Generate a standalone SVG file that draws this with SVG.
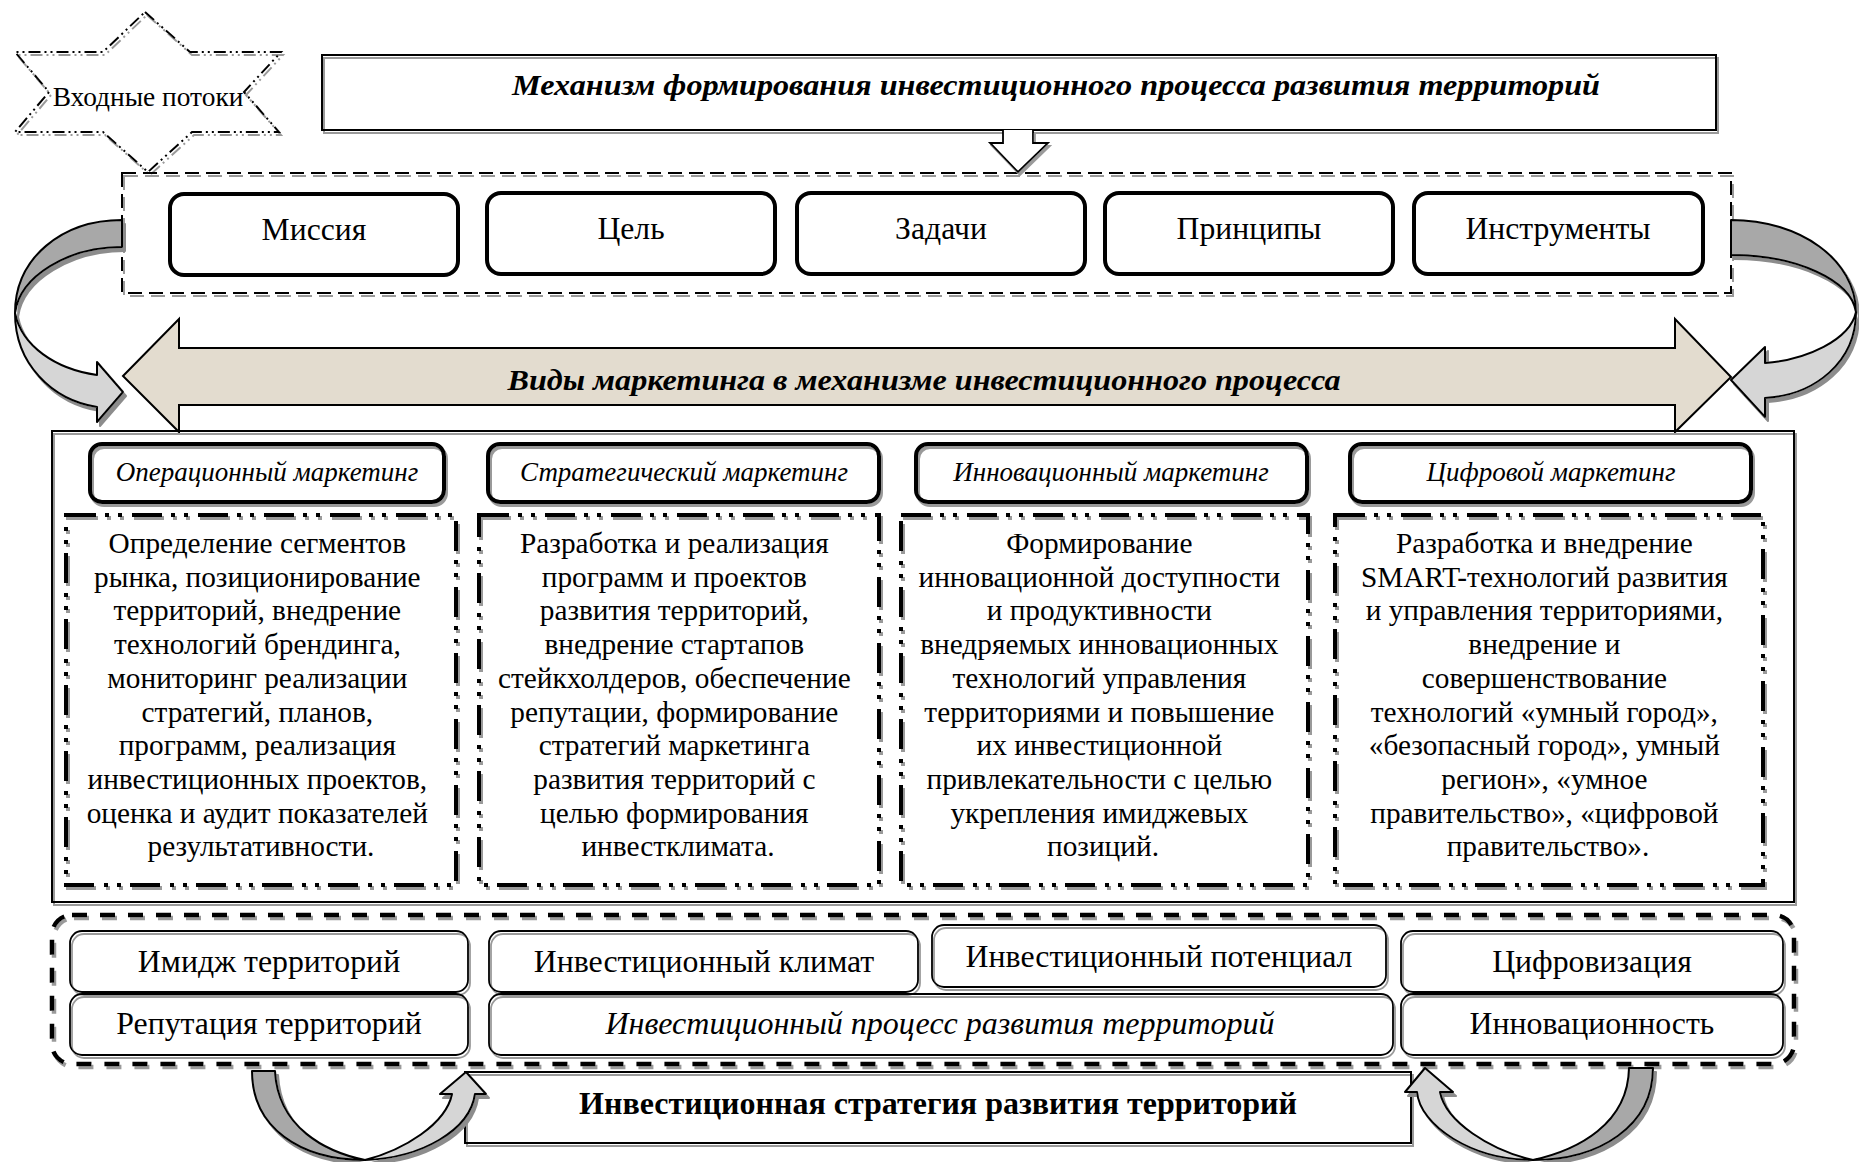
<svg xmlns="http://www.w3.org/2000/svg" width="1859" height="1162" viewBox="0 0 1859 1162">
  <defs>
    <!-- gray offset copy of outlines, like a flat drop shadow -->
    <filter id="sh" filterUnits="userSpaceOnUse" x="0" y="0" width="1859" height="1162">
      <feOffset in="SourceAlpha" dx="2" dy="3" result="o"/>
      <feFlood flood-color="#9a9a9a"/>
      <feComposite in2="o" operator="in" result="s"/>
      <feMerge><feMergeNode in="s"/><feMergeNode in="SourceGraphic"/></feMerge>
    </filter>
    <filter id="sh2" filterUnits="userSpaceOnUse" x="0" y="0" width="1859" height="1162">
      <feOffset in="SourceAlpha" dx="3" dy="4" result="o"/>
      <feFlood flood-color="#8c8c8c"/>
      <feComposite in2="o" operator="in" result="s"/>
      <feMerge><feMergeNode in="s"/><feMergeNode in="SourceGraphic"/></feMerge>
    </filter>
  </defs>
  <style>
    text { font-family: "Liberation Serif", "Times New Roman", serif; fill: #000; text-anchor: middle; }
    .title { font-size: 30px; font-weight: bold; font-style: italic; }
    .node { font-size: 31.7px; }
    .head { font-size: 27px; font-style: italic; }
    .body { font-size: 29.3px; }
    .low { font-size: 31.8px; }
    .lowi { font-size: 32px; font-style: italic; }
    .strat { font-size: 32px; font-weight: bold; }
    .frame { fill: none; stroke: #000; stroke-width: 2; }
    .pill { fill: none; stroke: #000; stroke-width: 4; }
    .thin { fill: none; stroke: #000; stroke-width: 1.8; }
    .dashdot { fill: none; stroke: #000; stroke-width: 4; stroke-dasharray: 30 9 4 9 4 10; }
    .dash { fill: none; stroke: #000; stroke-width: 2; stroke-dasharray: 14 7; }
    .dashbold { fill: none; stroke: #000; stroke-width: 4.5; stroke-dasharray: 15 13; }
    .dark { fill: #a8a8a8; stroke: #000; stroke-width: 2; stroke-linejoin: round; }
    .light { fill: #d6d6d6; stroke: #000; stroke-width: 2; stroke-linejoin: round; }
  </style>

  <rect width="1859" height="1162" fill="#fff"/>

  <!-- input flows star -->
  <g id="input-flows">
    <path filter="url(#sh)" fill="none" stroke="#000" stroke-width="2" stroke-dasharray="12 4 2 4 2 4"
          d="M145,12 L190,52 L281,52 L244,92 L279,132 L192,132 L148,172 L103,132 L15,132 L49,92 L15,52 L103,52 Z"/>
    <text x="148" y="106" style="font-size:27.4px">Входные потоки</text>
  </g>

  <!-- mechanism title -->
  <g id="title">
    <rect class="frame" filter="url(#sh)" x="322" y="55" width="1394" height="75"/>
    <text class="title" x="1056" y="95" textLength="1088" lengthAdjust="spacingAndGlyphs">Механизм формирования инвестиционного процесса развития территорий</text>
  </g>

  <!-- block of core elements -->
  <g id="core-elements">
    <rect class="dash" filter="url(#sh)" x="122" y="173" width="1609" height="120"/>
  </g>
  <g id="mission">
    <rect class="pill" x="170" y="194" width="288" height="81" rx="14"/>
    <text class="node" x="314" y="240">Миссия</text>
  </g>
  <g id="goal">
    <rect class="pill" x="487" y="193" width="288" height="81" rx="14"/>
    <text class="node" x="631" y="239">Цель</text>
  </g>
  <g id="tasks">
    <rect class="pill" x="797" y="193" width="288" height="81" rx="14"/>
    <text class="node" x="941" y="239">Задачи</text>
  </g>
  <g id="principles">
    <rect class="pill" x="1105" y="193" width="288" height="81" rx="14"/>
    <text class="node" x="1249" y="239">Принципы</text>
  </g>
  <g id="instruments">
    <rect class="pill" x="1414" y="193" width="289" height="81" rx="14"/>
    <text class="node" x="1558" y="239">Инструменты</text>
  </g>

  <!-- two-headed band: marketing types -->
  <g id="marketing-types">
    <path fill="#e3dccf" stroke="#000" stroke-width="2"
          d="M123,376 L179,319 L179,348 L1675,348 L1675,319 L1731,377 L1675,432 L1675,405 L179,405 L179,432 Z"/>
    <text class="title" x="924" y="390" style="font-size:29px" textLength="833" lengthAdjust="spacingAndGlyphs">Виды маркетинга в механизме инвестиционного процесса</text>
  </g>

  <!-- marketing panel -->
  <g id="marketing-panel">
    <rect class="frame" filter="url(#sh)" x="52" y="431" width="1742" height="471"/>
  </g>

  <g id="operational">
    <rect class="pill" filter="url(#sh)" x="90" y="444" width="354" height="58" rx="12"/>
    <text class="head" x="267" y="481">Операционный маркетинг</text>
    <rect class="dashdot" filter="url(#sh)" x="66" y="515" width="390" height="370"/>
    <text class="body" x="261" y="553">
      <tspan x="261">Определение сегментов</tspan>
      <tspan x="261" dy="33.7">рынка, позиционирование</tspan>
      <tspan x="261" dy="33.7">территорий, внедрение</tspan>
      <tspan x="261" dy="33.7">технологий брендинга,</tspan>
      <tspan x="261" dy="33.7">мониторинг реализации</tspan>
      <tspan x="261" dy="33.7">стратегий, планов,</tspan>
      <tspan x="261" dy="33.7">программ, реализация</tspan>
      <tspan x="261" dy="33.7">инвестиционных проектов,</tspan>
      <tspan x="261" dy="33.7">оценка и аудит показателей</tspan>
      <tspan x="261" dy="33.7">результативности.</tspan>
    </text>
  </g>

  <g id="strategic">
    <rect class="pill" filter="url(#sh)" x="488" y="444" width="391" height="58" rx="12"/>
    <text class="head" x="684" y="481">Стратегический маркетинг</text>
    <rect class="dashdot" filter="url(#sh)" x="479" y="515" width="400" height="370"/>
    <text class="body" x="678" y="553">
      <tspan x="678">Разработка и реализация</tspan>
      <tspan x="678" dy="33.7">программ и проектов</tspan>
      <tspan x="678" dy="33.7">развития территорий,</tspan>
      <tspan x="678" dy="33.7">внедрение стартапов</tspan>
      <tspan x="678" dy="33.7">стейкхолдеров, обеспечение</tspan>
      <tspan x="678" dy="33.7">репутации, формирование</tspan>
      <tspan x="678" dy="33.7">стратегий маркетинга</tspan>
      <tspan x="678" dy="33.7">развития территорий с</tspan>
      <tspan x="678" dy="33.7">целью формирования</tspan>
      <tspan x="678" dy="33.7">инвестклимата.</tspan>
    </text>
  </g>

  <g id="innovative">
    <rect class="pill" filter="url(#sh)" x="916" y="444" width="391" height="58" rx="12"/>
    <text class="head" x="1111" y="481">Инновационный маркетинг</text>
    <rect class="dashdot" filter="url(#sh)" x="901" y="515" width="407" height="370"/>
    <text class="body" x="1103" y="553">
      <tspan x="1103">Формирование</tspan>
      <tspan x="1103" dy="33.7">инновационной доступности</tspan>
      <tspan x="1103" dy="33.7">и продуктивности</tspan>
      <tspan x="1103" dy="33.7">внедряемых инновационных</tspan>
      <tspan x="1103" dy="33.7">технологий управления</tspan>
      <tspan x="1103" dy="33.7">территориями и повышение</tspan>
      <tspan x="1103" dy="33.7">их инвестиционной</tspan>
      <tspan x="1103" dy="33.7">привлекательности с целью</tspan>
      <tspan x="1103" dy="33.7">укрепления имиджевых</tspan>
      <tspan x="1103" dy="33.7">позиций.</tspan>
    </text>
  </g>

  <g id="digital">
    <rect class="pill" filter="url(#sh)" x="1350" y="444" width="401" height="58" rx="12"/>
    <text class="head" x="1551" y="481">Цифровой маркетинг</text>
    <rect class="dashdot" filter="url(#sh)" x="1335" y="515" width="428" height="370"/>
    <text class="body" x="1548" y="553">
      <tspan x="1548">Разработка и внедрение</tspan>
      <tspan x="1548" dy="33.7">SMART-технологий развития</tspan>
      <tspan x="1548" dy="33.7">и управления территориями,</tspan>
      <tspan x="1548" dy="33.7">внедрение и</tspan>
      <tspan x="1548" dy="33.7">совершенствование</tspan>
      <tspan x="1548" dy="33.7">технологий «умный город»,</tspan>
      <tspan x="1548" dy="33.7">«безопасный город», умный</tspan>
      <tspan x="1548" dy="33.7">регион», «умное</tspan>
      <tspan x="1548" dy="33.7">правительство», «цифровой</tspan>
      <tspan x="1548" dy="33.7">правительство».</tspan>
    </text>
  </g>

  <!-- investment process block -->
  <g id="process-block">
    <rect class="dashbold" filter="url(#sh)" x="52" y="915" width="1742" height="149" rx="20"/>
  </g>
  <g id="image">
    <rect class="thin" filter="url(#sh)" x="70" y="931" width="398" height="61" rx="12"/>
    <text class="low" x="269" y="972">Имидж территорий</text>
  </g>
  <g id="reputation">
    <rect class="thin" filter="url(#sh)" x="70" y="994" width="398" height="61" rx="12"/>
    <text class="low" x="269" y="1034">Репутация территорий</text>
  </g>
  <g id="climate">
    <rect class="thin" filter="url(#sh)" x="489" y="931" width="429" height="61" rx="12"/>
    <text class="low" x="704" y="972">Инвестиционный климат</text>
  </g>
  <g id="potential">
    <rect class="thin" filter="url(#sh)" x="932" y="925" width="454" height="62" rx="12"/>
    <text class="low" x="1159" y="967">Инвестиционный потенциал</text>
  </g>
  <g id="process">
    <rect class="thin" filter="url(#sh)" x="489" y="994" width="904" height="61" rx="12"/>
    <text class="lowi" x="940" y="1034">Инвестиционный процесс развития территорий</text>
  </g>
  <g id="digitalization">
    <rect class="thin" filter="url(#sh)" x="1401" y="931" width="382" height="61" rx="12"/>
    <text class="low" x="1592" y="972">Цифровизация</text>
  </g>
  <g id="innovativeness">
    <rect class="thin" filter="url(#sh)" x="1401" y="994" width="382" height="61" rx="12"/>
    <text class="low" x="1592" y="1034">Инновационность</text>
  </g>

  <!-- investment strategy -->
  <g id="strategy">
    <rect class="frame" filter="url(#sh)" x="465" y="1072" width="946" height="71"/>
    <text class="strat" x="938" y="1114">Инвестиционная стратегия развития территорий</text>
  </g>

  <!-- connectors -->
  <g id="connectors">
    <!-- title down to core elements -->
    <path filter="url(#sh)" fill="#fff" stroke="#000" stroke-width="1.8" stroke-linejoin="miter"
          d="M1003,130 L1003,143 L990,143 L1018,172 L1048,143 L1033,143 L1033,130"/>

    <!-- left loop: core elements to marketing types -->
    <g filter="url(#sh2)">
      <path class="dark" d="M122,220 C62,220 15,258 15,313 C20,276 68,247 122,247 Z"/>
      <path class="light" d="M15,313 C15,364 52,400 97,407 L97,422 L123,392 L97,362 L97,375 C55,369 22,346 15,313 Z"/>
    </g>

    <!-- right loop: core elements to marketing types -->
    <g filter="url(#sh2)">
      <path class="dark" d="M1731,220 C1800,220 1856,260 1856,312 C1851,280 1796,255 1731,255 Z"/>
      <path class="light" d="M1856,312 C1856,362 1815,395 1765,398 L1765,417 L1731,380 L1765,347 L1765,363 C1806,360 1850,340 1856,312 Z"/>
    </g>

    <!-- bottom left loop: process block to strategy -->
    <g filter="url(#sh2)">
      <path class="dark" d="M252,1071 C252,1128 300,1160 365,1160 C326,1152 278,1128 275,1071 Z"/>
      <path class="light" d="M365,1160 C422,1158 470,1130 475,1094 L486,1094 L466,1072 L440,1094 L452,1094 C446,1124 404,1150 365,1160 Z"/>
    </g>

    <!-- bottom right loop: process block to strategy -->
    <g filter="url(#sh2)">
      <path class="dark" d="M1653,1068 C1653,1126 1600,1160 1533,1160 C1578,1150 1628,1124 1629,1068 Z"/>
      <path class="light" d="M1533,1160 C1472,1160 1420,1126 1417,1092 L1405,1092 L1425,1068 L1453,1092 L1440,1092 C1446,1122 1490,1150 1533,1160 Z"/>
    </g>
  </g>
</svg>
